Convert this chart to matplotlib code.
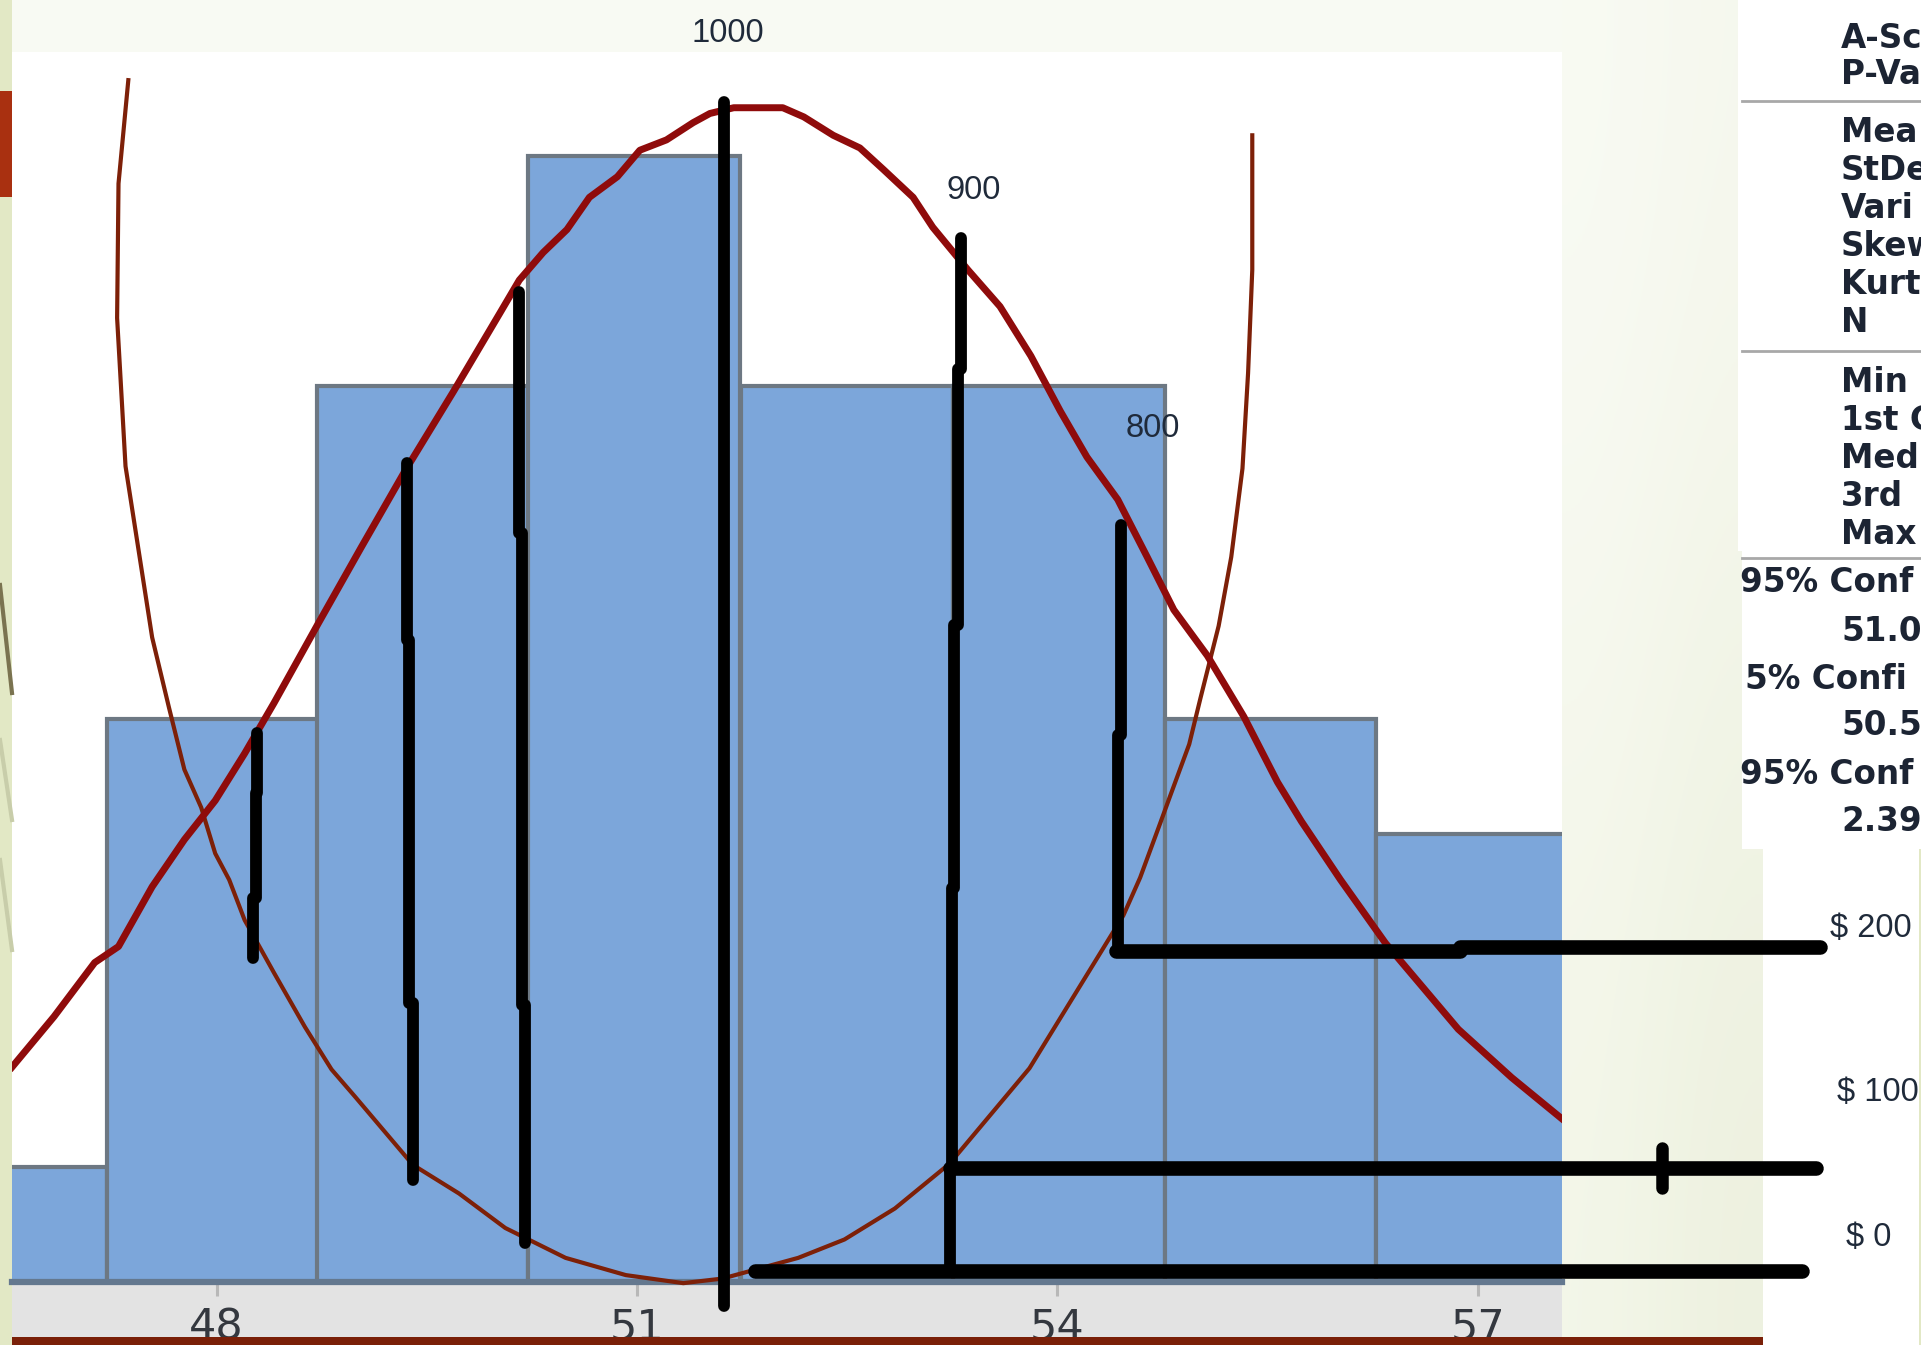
import matplotlib
matplotlib.use("Agg")
import matplotlib.pyplot as plt
import numpy as np
from matplotlib.patches import Rectangle

W, H = 1921, 1345

#? histogram
bin_centers = [46.46, 47.97, 49.47, 50.98, 52.50, 54.01, 55.52, 57.03]
bin_counts = [10, 49, 78, 98, 78, 78, 49, 39]
bin_width = 1.51
tick_values = [48, 51, 54, 57]

#? fitted normal curve
curve_x = [46.54, 46.84, 47.13, 47.30, 47.54, 47.77, 47.99, 48.20, 48.41, 48.72, 49.03, 49.34,
           49.69, 50.02, 50.16, 50.33, 50.50, 50.66, 50.86, 51.02, 51.21, 51.40, 51.52, 51.69,
           52.04, 52.19, 52.40, 52.59, 52.76, 52.97, 53.11, 53.36, 53.59, 53.81, 54.02, 54.21,
           54.43, 54.64, 54.83, 55.07, 55.33, 55.57, 55.74, 56.02, 56.34, 56.86, 57.24, 57.61]
curve_y = [18.7, 23.1, 27.8, 29.2, 34.4, 38.5, 41.9, 46.0, 50.4, 57.2, 63.9, 70.5,
           77.5, 84.3, 87.2, 89.6, 91.6, 94.4, 96.2, 98.5, 99.4, 100.9, 101.7, 102.2,
           102.2, 101.4, 99.8, 98.7, 96.8, 94.4, 91.8, 88.1, 84.9, 80.6, 75.8, 71.8,
           68.1, 63.1, 58.5, 54.5, 49.2, 43.5, 40.1, 35.0, 29.5, 22.0, 17.8, 14.1]

#? thin hand drawn U curve
u_x = [47.37, 47.30, 47.29, 47.35, 47.54, 47.66, 47.77, 47.89, 47.99, 48.09, 48.20, 48.41, 48.63,
       48.82, 48.99, 49.40, 49.73, 50.06, 50.49, 50.92, 51.33, 51.61, 52.15, 52.48, 52.84, 53.23,
       53.80, 54.47, 54.59, 54.72, 54.81, 54.94, 55.02, 55.15, 55.24, 55.32, 55.36, 55.39, 55.39]
u_y = [104.6, 95.6, 83.9, 71.0, 56.1, 50.0, 44.6, 41.3, 37.3, 35.0, 31.5, 26.9, 22.2,
       18.5, 16.1, 10.2, 7.7, 4.7, 2.1, 0.6, -0.1, 0.3, 2.1, 3.7, 6.4, 10.3,
       18.6, 31.9, 35.2, 39.5, 42.5, 46.8, 50.8, 57.1, 63.1, 70.8, 79.1, 88.1, 99.8]

#? hand drawn black strokes, each one made of a few pieces with small jogs
stroke_xs = [[48.29, 48.28, 48.26],
             [49.36, 49.37, 49.40],
             [50.16, 50.18, 50.20],
             [51.62],
             [53.31, 53.29, 53.26, 53.25, 53.23],
             [54.45, 54.43]]
stroke_ys = [[47.8, 42.6, 33.4, 28.2],
             [71.3, 55.9, 24.3, 8.9],
             [86.2, 65.2, 24.1, 3.4],
             [102.7, -2.07],
             [90.9, 79.5, 57.2, 34.3, 9.7, 1.2],
             [65.9, 47.6, 28.9]]

price_x0 = [54.42, 56.87, 53.23, 51.84]
price_x1 = [56.87, 59.44, 59.41, 59.31]
price_y = [28.8, 29.16, 9.92, 0.96]
price_labels = ["$ 200", "$ 100", "$ 0"]
price_label_x = [59.51, 59.56, 59.63]
price_label_y = [30.8, 16.45, 3.9]

quantity_labels = ["1000", "900", "800"]
quantity_x = [51.65, 53.40, 54.68]
quantity_y = [108.7, 95.0, 74.3]

#? text panel on the right, cut off by the picture edge
stat_labels = ["A-Sc", "P-Va", "Mea", "StDe", "Vari", "Skew", "Kurt", "N",
               "Min", "1st C", "Med", "3rd", "Max"]
stat_rows = [38, 75, 133, 171, 209, 246, 285, 323, 382, 420, 458, 496, 535]
conf_labels = ["95% Conf", "51.0", "5% Confi", "50.5", "95% Conf", "2.39"]
conf_rows = [583, 632, 680, 726, 775, 822]
conf_left = [1740, 1841, 1745, 1841, 1740, 1841]
panel_rules = [101, 351, 558]

LABEL_FONT = "Liberation Sans"


def px_axes(fig, x0, y0, x1, y1, zorder):
    """Axes placed by pixel box, using picture pixels as its own scale"""
    ax = fig.add_axes([x0 / W, 1 - y1 / H, (x1 - x0) / W, (y1 - y0) / H], zorder=zorder)
    ax.set_xlim(x0, x1)
    ax.set_ylim(y1, y0)
    ax.axis("off")
    return ax


def draw_background(fig):
    bg = px_axes(fig, 0, 0, W, H, -2)
    grad = np.array([[[0.975, 0.983, 0.955], [0.965, 0.973, 0.935]],
                     [[0.953, 0.965, 0.91], [0.93, 0.945, 0.875]]])
    bg.imshow(grad, extent=(1562, 1763, 1337, 0), aspect="auto", interpolation="bicubic", zorder=1)
    bg.set_xlim(0, W)
    bg.set_ylim(H, 0)
    bg.add_patch(Rectangle((12, 0), 1550, 52, color="#f8faf3", lw=0, zorder=1))
    bg.add_patch(Rectangle((0, 0), 12, H, color="#e2e8c5", lw=0, zorder=2))
    bg.add_patch(Rectangle((0, 91), 12, 106, color="#a93010", lw=0, zorder=3))
    bg.plot([0, 12], [585, 693], color="#7a7350", lw=3, zorder=3)
    bg.plot([0, 12], [740, 820], color="#c8cdaa", lw=3, zorder=3)
    bg.plot([0, 12], [860, 950], color="#c8cdaa", lw=3, zorder=3)
    bg.add_patch(Rectangle((12, 52), 1550, 1230, color="white", lw=0, zorder=1))
    bg.add_patch(Rectangle((12, 1282), 1550, 55, color="#e3e3e3", lw=0, zorder=1))
    bg.add_patch(Rectangle((1919, 849), 2, H - 849, color="#e2e8c5", lw=0, zorder=1))


def draw_chart(fig):
    ax = fig.add_axes([12 / W, 1 - 1282 / H, 1550 / W, 1230 / H], zorder=1)
    ax.patch.set_alpha(0)
    ax.set_xlim(46.54, 57.6)
    ax.set_ylim(0, 107.05)

    ax.bar(bin_centers, bin_counts, width=bin_width, color="#7ca6da", edgecolor="#6d7883", linewidth=3, zorder=2)

    ax.plot(u_x, u_y, color="#7d2008", lw=3, zorder=3, clip_on=False)
    ax.plot(curve_x, curve_y, color="#8f0b0b", lw=5, zorder=4)

    for xs, ys in zip(stroke_xs, stroke_ys):
        if len(xs) == 1:
            ax.plot([xs[0], xs[0]], [ys[0], ys[-1]], color="black", lw=8.5, solid_capstyle="round", zorder=5, clip_on=False)
            continue
        for i, x in enumerate(xs):
            ax.plot([x, x], [ys[i], ys[i + 1]], color="black", lw=8.5, solid_capstyle="round", zorder=5, clip_on=False)
    for x0, x1, y in zip(price_x0, price_x1, price_y):
        ax.plot([x0, x1], [y, y], color="black", lw=10.5, solid_capstyle="round", zorder=5, clip_on=False)
    #? small cross stroke on the middle price line
    ax.plot([58.31, 58.31], [11.66, 8.18], color="black", lw=9, solid_capstyle="round", zorder=5, clip_on=False)

    for label, x, y in zip(price_labels, price_label_x, price_label_y):
        ax.text(x, y, label, family=LABEL_FONT, fontsize=23.5, color="#1f2a3a", va="center", ha="left", clip_on=False)
    for label, x, y in zip(quantity_labels, quantity_x, quantity_y):
        ax.text(x, y, label, family=LABEL_FONT, fontsize=23.5, color="#1f2a3a", va="center", ha="center", clip_on=False, zorder=6)

    for side in ["top", "left", "right"]:
        ax.spines[side].set_visible(False)
    ax.spines["bottom"].set_color("#64788f")
    ax.spines["bottom"].set_linewidth(4.5)
    ax.set_yticks([])
    ax.set_xticks(tick_values)
    ax.tick_params(axis="x", length=10, width=2.2, color="#b8b8b8", pad=8, labelsize=31, labelcolor="#34383f")


def draw_panel(fig):
    #? panel has a little narrower white part at the top
    top = px_axes(fig, 1738, 0, W, 849, 2)
    top.add_patch(Rectangle((1738, 0), W - 1738, 551, color="white", lw=0))
    top.add_patch(Rectangle((1742, 551), W - 1742, 298, color="white", lw=0))
    for y in panel_rules:
        top.plot([1742, W], [y, y], color="#a8a8a8", lw=2)
    style = dict(family="DejaVu Sans", weight="bold", fontsize=23.5, color="#1c2433", va="center", clip_on=True)
    for label, y in zip(stat_labels, stat_rows):
        top.text(1841, y, label, **style)
    for label, y, x in zip(conf_labels, conf_rows, conf_left):
        top.text(x, y, label, **style)


def main():
    fig = plt.figure(figsize=(W / 100, H / 100), dpi=100, facecolor="white")
    draw_background(fig)
    draw_chart(fig)
    draw_panel(fig)
    #? dark red band goes over the bottom of the tick labels
    fig.add_artist(Rectangle((12 / W, 0), 1751 / W, 8 / H, transform=fig.transFigure,
                             color="#7a2008", lw=0, zorder=6))
    fig.savefig("out.png", dpi=100)


if __name__ == "__main__":
    main()
